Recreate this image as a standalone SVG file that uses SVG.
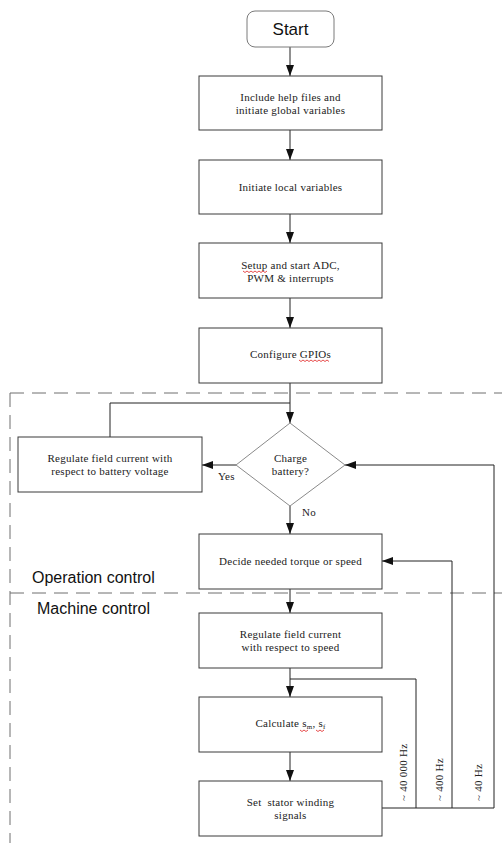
<svg xmlns="http://www.w3.org/2000/svg" width="502" height="843" viewBox="0 0 502 843">
  <style>
    .box { fill: #ffffff; stroke: #3a3a3a; stroke-width: 1; }
    .term { fill: #ffffff; stroke: #7a7a7a; stroke-width: 1; }
    .dec { fill: #ffffff; stroke: #8a8a8a; stroke-width: 1; }
    .lbl { font-family: "Liberation Serif", "Times New Roman", serif; font-size: 11px; fill: #222222; text-anchor: middle; letter-spacing: 0.25px; }
    .note { font-family: "Liberation Serif", "Times New Roman", serif; font-size: 11px; fill: #222222; letter-spacing: 0.25px; }
    .sans { font-family: "Liberation Sans", Arial, sans-serif; fill: #111111; }
    .wire { fill: none; stroke: #222222; stroke-width: 1; }
    .zone { fill: none; stroke: #6e6e6e; stroke-width: 1; stroke-dasharray: 14 8; }
    .spell { fill: none; stroke: #e02020; stroke-width: 0.8; }
  </style>
  <defs>
    <marker id="arrow" markerUnits="userSpaceOnUse" markerWidth="11" markerHeight="8" refX="11" refY="4" orient="auto">
      <path d="M0,0 L11,4 L0,8 z" fill="#111111"/>
    </marker>
  </defs>

  <!-- region boundaries -->
  <g id="zones">
    <path class="zone" d="M10,393 H502"/>
    <path class="zone" d="M10,593 H502"/>
    <path class="zone" d="M10,393 V843"/>
    <text class="sans" x="32" y="583" font-size="16">Operation control</text>
    <text class="sans" x="37" y="614" font-size="16">Machine control</text>
  </g>

  <!-- connectors -->
  <g id="connectors">
    <path class="wire" d="M290,47 V76" marker-end="url(#arrow)"/>
    <path class="wire" d="M290,130 V160" marker-end="url(#arrow)"/>
    <path class="wire" d="M290,214 V243" marker-end="url(#arrow)"/>
    <path class="wire" d="M290,298 V328" marker-end="url(#arrow)"/>
    <path class="wire" d="M290,383 V423" marker-end="url(#arrow)"/>
    <path class="wire" d="M110,437 V403 H290"/>
    <path class="wire" d="M236,465 H202" marker-end="url(#arrow)"/>
    <path class="wire" d="M290,506 V534" marker-end="url(#arrow)"/>
    <path class="wire" d="M290,589 V613" marker-end="url(#arrow)"/>
    <path class="wire" d="M290,668 V697" marker-end="url(#arrow)"/>
    <path class="wire" d="M290,752 V781" marker-end="url(#arrow)"/>
    <!-- feedback loops from the stator step -->
    <path class="wire" d="M382,808 H494 V465 H345" marker-end="url(#arrow)"/>
    <path class="wire" d="M452,808 V561 H382" marker-end="url(#arrow)"/>
    <path class="wire" d="M416,808 V679 H290"/>
    <text class="note" x="0" y="0" transform="translate(407,801) rotate(-90)">~ 40 000 Hz</text>
    <text class="note" x="0" y="0" transform="translate(443,801) rotate(-90)">~ 400 Hz</text>
    <text class="note" x="0" y="0" transform="translate(482,801) rotate(-90)">~ 40 Hz</text>
    <text class="note" x="218" y="480">Yes</text>
    <text class="note" x="302" y="516">No</text>
  </g>

  <g id="start">
    <rect class="term" x="247" y="11" width="87" height="36" rx="8" ry="8"/>
    <text class="sans" x="290.5" y="35" font-size="17" text-anchor="middle">Start</text>
  </g>

  <g id="include">
    <rect class="box" x="199" y="76" width="183" height="54"/>
    <text class="lbl" x="290.5" y="101">Include help files and</text>
    <text class="lbl" x="290.5" y="114">initiate global variables</text>
  </g>

  <g id="local">
    <rect class="box" x="199" y="160" width="183" height="54"/>
    <text class="lbl" x="290.5" y="191">Initiate local variables</text>
  </g>

  <g id="setup">
    <rect class="box" x="199" y="243" width="183" height="55"/>
    <text class="lbl" x="290.5" y="269">Setup and start ADC,</text>
    <text class="lbl" x="290.5" y="282">PWM &amp; interrupts</text>
    <path class="spell" d="M243,271 l2,1.5 l2,-1.5 l2,1.5 l2,-1.5 l2,1.5 l2,-1.5 l2,1.5 l2,-1.5 l2,1.5 l2,-1.5 l2,1.5 l2,-1.5"/>
  </g>

  <g id="gpio">
    <rect class="box" x="199" y="328" width="183" height="55"/>
    <text class="lbl" x="290.5" y="358">Configure GPIOs</text>
    <path class="spell" d="M299,360 l2,1.5 l2,-1.5 l2,1.5 l2,-1.5 l2,1.5 l2,-1.5 l2,1.5 l2,-1.5 l2,1.5 l2,-1.5 l2,1.5 l2,-1.5 l2,1.5 l2,-1.5 l2,1.5"/>
  </g>

  <g id="charge">
    <path class="dec" d="M290,423 L345,465 L290,506 L236,465 Z"/>
    <text class="lbl" x="290.5" y="462">Charge</text>
    <text class="lbl" x="290.5" y="475">battery?</text>
  </g>

  <g id="battery">
    <rect class="box" x="18" y="437" width="184" height="55"/>
    <text class="lbl" x="110" y="462">Regulate field current with</text>
    <text class="lbl" x="110" y="475">respect to battery voltage</text>
  </g>

  <g id="decide">
    <rect class="box" x="199" y="534" width="183" height="55"/>
    <text class="lbl" x="290.5" y="565">Decide needed torque or speed</text>
  </g>

  <g id="speed">
    <rect class="box" x="199" y="613" width="183" height="55"/>
    <text class="lbl" x="290.5" y="638">Regulate field current</text>
    <text class="lbl" x="290.5" y="651">with respect to speed</text>
  </g>

  <g id="calc">
    <rect class="box" x="199" y="697" width="183" height="55"/>
    <text class="lbl" x="290.5" y="727">Calculate s<tspan font-size="7" dy="2">m</tspan><tspan dy="-2">, s</tspan><tspan font-size="7" dy="2">f</tspan></text>
    <path class="spell" d="M300,730 l2,1.5 l2,-1.5 l2,1.5 l2,-1.5"/>
    <path class="spell" d="M316,730 l2,1.5 l2,-1.5 l2,1.5 l2,-1.5"/>
  </g>

  <g id="stator">
    <rect class="box" x="199" y="781" width="183" height="55"/>
    <text class="lbl" x="290.5" y="806" xml:space="preserve">Set  stator winding</text>
    <text class="lbl" x="290.5" y="819">signals</text>
  </g>
</svg>
